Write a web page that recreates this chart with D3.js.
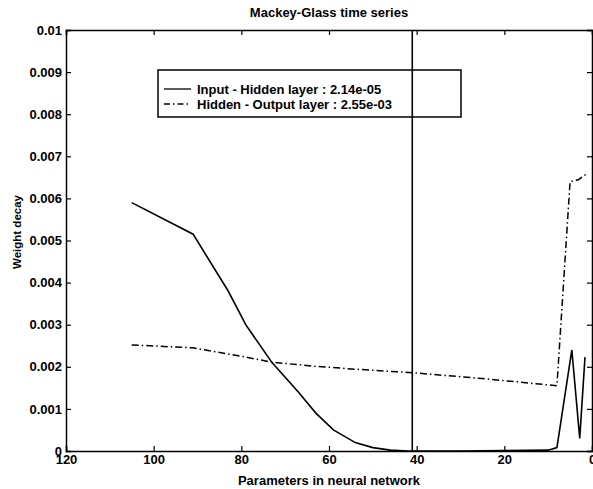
<!DOCTYPE html>
<html>
<head>
<meta charset="utf-8">
<script src="https://d3js.org/d3.v7.min.js"></script>
<style>
  body { margin: 0; background: #fff; }
  text { font-family: "Liberation Sans", Arial, sans-serif; }
</style>
</head>
<body>
<script>
// values
const xTicks = [120, 100, 80, 60, 40, 20, 0];
const yTicks = [0, 0.001, 0.002, 0.003, 0.004, 0.005, 0.006, 0.007, 0.008, 0.009, 0.01];

const inputX = [105, 91, 83, 79, 73, 67, 63, 59, 54, 50, 46, 42, 30, 20, 10, 8, 4.6, 2.8, 1.6];
const inputY = [0.0059, 0.00515, 0.0038, 0.0030, 0.0021, 0.0014, 0.0009, 0.0005, 0.0002, 0.00008, 0.00002, 0, 0, 0.00001, 0.00002, 0.00008, 0.0024, 0.0003, 0.00223];

const hiddenX = [105, 91, 80, 73, 64, 55, 41, 25, 8, 5, 3, 1];
const hiddenY = [0.00252, 0.00245, 0.00225, 0.00211, 0.00202, 0.00195, 0.00186, 0.00172, 0.00155, 0.0064, 0.00645, 0.0066];

const markerX = 41;
const legendLabels = ["Input - Hidden layer : 2.14e-05", "Hidden - Output layer : 2.55e-03"];

function draw() {
    var width = 593;
    var height = 489;
    var left = 66, right = 592, top = 30, bottom = 451;

    const svg = d3.select("body").append("svg")
        .attr("width", width)
        .attr("height", height);

    const x = d3.scaleLinear().domain([120, 0]).range([left, right]);
    const y = d3.scaleLinear().domain([0, 0.01]).range([bottom, top]);

    const fmt = d => d === 0 ? "0" : d3.format(".3~f")(d);

    // axes, MATLAB style: ticks pointing inwards on all four sides
    svg.append("g")
        .attr("transform", `translate(0,${bottom})`)
        .call(d3.axisBottom(x).tickValues(xTicks).tickSize(-5).tickPadding(4).tickFormat(d3.format("d")));
    svg.append("g")
        .attr("transform", `translate(0,${top})`)
        .call(d3.axisTop(x).tickValues(xTicks).tickSize(-5).tickFormat(""));
    svg.append("g")
        .attr("transform", `translate(${left},0)`)
        .call(d3.axisLeft(y).tickValues(yTicks).tickSize(-5).tickPadding(4).tickFormat(fmt));
    svg.append("g")
        .attr("transform", `translate(${right},0)`)
        .call(d3.axisRight(y).tickValues(yTicks).tickSize(-5).tickFormat(""));

    svg.selectAll(".domain").attr("stroke-width", 1.5);
    svg.selectAll(".tick line").attr("stroke-width", 1.2);
    svg.selectAll(".tick text")
        .attr("font-size", 13)
        .attr("font-weight", "bold")
        .attr("fill", "#000");

    const line = d3.line()
        .x(d => x(d[0]))
        .y(d => y(d[1]));

    svg.append("path")
        .datum(d3.zip(hiddenX, hiddenY))
        .attr("fill", "none")
        .attr("stroke", "black")
        .attr("stroke-width", 1.5)
        .attr("stroke-dasharray", "7,3,1.5,3")
        .attr("d", line);

    svg.append("path")
        .datum(d3.zip(inputX, inputY))
        .attr("fill", "none")
        .attr("stroke", "black")
        .attr("stroke-width", 1.6)
        .attr("d", line);

    // legend
    const lg = svg.append("g");
    lg.append("rect")
        .attr("x", 158).attr("y", 70)
        .attr("width", 303).attr("height", 47)
        .attr("fill", "white")
        .attr("stroke", "black")
        .attr("stroke-width", 1.5);
    legendLabels.forEach(function(t, i) {
        var ly = 89 + i * 15;
        lg.append("line")
            .attr("x1", 164).attr("x2", 191)
            .attr("y1", ly).attr("y2", ly)
            .attr("stroke", "black")
            .attr("stroke-width", 1.3)
            .attr("stroke-dasharray", i == 0 ? null : "6,3,1.5,3");
        lg.append("text")
            .attr("x", 197).attr("y", ly + 4.5)
            .attr("font-size", 13)
            .attr("font-weight", "bold")
            .text(t);
    });

    // vertical marker on top of everything
    svg.append("line")
        .attr("x1", x(markerX)).attr("x2", x(markerX))
        .attr("y1", top).attr("y2", bottom)
        .attr("stroke", "black")
        .attr("stroke-width", 1.6);

    svg.append("text")
        .attr("x", (left + right) / 2).attr("y", 17)
        .attr("text-anchor", "middle")
        .attr("font-size", 13)
        .attr("font-weight", "bold")
        .text("Mackey-Glass time series");

    svg.append("text")
        .attr("x", (left + right) / 2).attr("y", 485)
        .attr("text-anchor", "middle")
        .attr("font-size", 13)
        .attr("font-weight", "bold")
        .text("Parameters in neural network");

    svg.append("text")
        .attr("transform", "translate(21,232) rotate(-90)")
        .attr("text-anchor", "middle")
        .attr("font-size", 11.5)
        .attr("font-weight", "bold")
        .text("Weight decay");
}

draw();
</script>
</body>
</html>
